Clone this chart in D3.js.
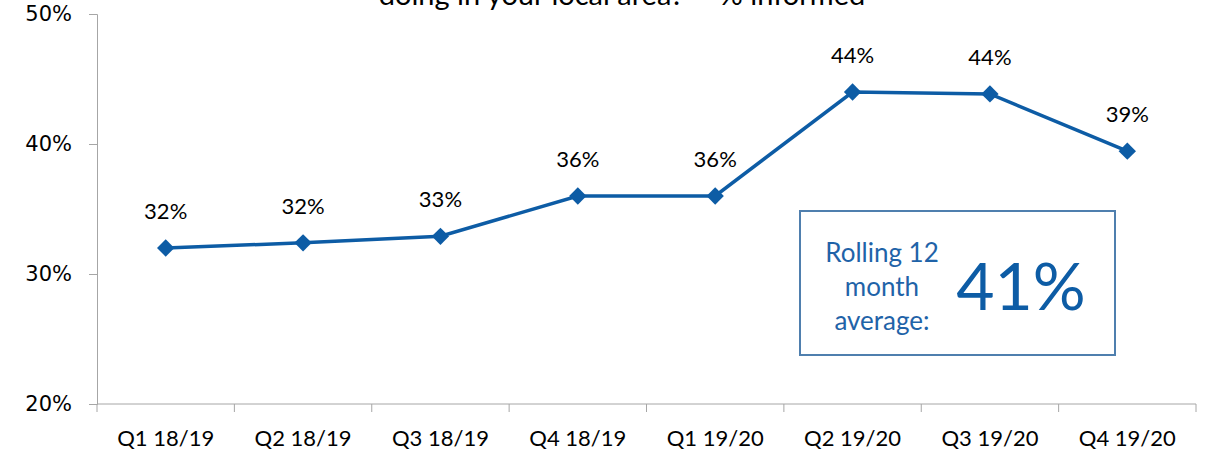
<!DOCTYPE html>
<html>
<head>
<meta charset="utf-8">
<script src="https://cdn.jsdelivr.net/npm/d3@7"></script>
<style>
  html, body { margin: 0; padding: 0; background: #fff; }
  svg { display: block; }
</style>
</head>
<body>
<svg id="chart" width="1206" height="452"></svg>
<script>
// Quarterly share of residents who feel informed
const quarters = ["Q1 18/19", "Q2 18/19", "Q3 18/19", "Q4 18/19", "Q1 19/20", "Q2 19/20", "Q3 19/20", "Q4 19/20"];
const informed = [32.0, 32.4, 32.9, 36.0, 36.0, 44.0, 43.85, 39.45];
const yTicks = [20, 30, 40, 50];
const rollingAverage = 41;
const titleText = "doing in your local area?\u201d - % informed";
const boxLines = ["Rolling 12", "month", "average:"];

const svg = d3.select("#chart");
const lineColor = "#0d5ca5";
const axisColor = "#a6a6a6";

const margin = { left: 97, right: 10, top: 14, bottom: 48 };
const W = 1206, H = 452;

const x = d3.scaleBand().domain(quarters).range([margin.left, W - margin.right]);
const y = d3.scaleLinear().domain([20, 50]).range([H - margin.bottom, margin.top]);

// title (its first line runs above the top edge)
svg.append("text")
  .attr("x", 622).attr("y", 5)
  .attr("text-anchor", "middle")
  .attr("font-family", "Lato, sans-serif")
  .attr("font-size", 29)
  .attr("fill", "#000")
  .text(titleText);

// y axis
const yAxis = svg.append("g")
  .attr("transform", `translate(${margin.left},0)`)
  .call(d3.axisLeft(y).tickValues(yTicks).tickFormat(d => d + "%").tickSize(8).tickPadding(17));
yAxis.selectAll("path, line").attr("stroke", axisColor);
yAxis.selectAll("text")
  .attr("font-family", "'DejaVu Sans', sans-serif")
  .attr("font-size", 21)
  .attr("fill", "#000");

// x axis with ticks between categories
const xAxisG = svg.append("g").attr("transform", `translate(0,${y(20)})`);
xAxisG.append("line")
  .attr("x1", margin.left).attr("x2", W - margin.right)
  .attr("stroke", axisColor);
const boundaries = quarters.map(q => x(q)).concat([x(quarters[quarters.length - 1]) + x.bandwidth()]);
xAxisG.selectAll("line.tick")
  .data(boundaries)
  .join("line")
  .attr("class", "tick")
  .attr("x1", d => d).attr("x2", d => d)
  .attr("y1", 0).attr("y2", 8)
  .attr("stroke", axisColor);
xAxisG.selectAll("text")
  .data(quarters)
  .join("text")
  .attr("x", d => x(d) + x.bandwidth() / 2)
  .attr("y", 42)
  .attr("text-anchor", "middle")
  .attr("font-family", "Lato, sans-serif")
  .attr("font-size", 22)
  .attr("fill", "#000")
  .text(d => d);

const cx = (d, i) => x(quarters[i]) + x.bandwidth() / 2;

// series line
svg.append("path")
  .datum(informed)
  .attr("fill", "none")
  .attr("stroke", lineColor)
  .attr("stroke-width", 3.5)
  .attr("d", d3.line().x(cx).y(d => y(d)));

// diamond markers
svg.selectAll("path.marker")
  .data(informed)
  .join("path")
  .attr("class", "marker")
  .attr("d", d3.symbol(d3.symbolSquare, 150))
  .attr("transform", (d, i) => `translate(${cx(d, i)},${y(d)}) rotate(45)`)
  .attr("fill", lineColor);

// value labels
svg.selectAll("text.value")
  .data(informed)
  .join("text")
  .attr("class", "value")
  .attr("x", cx)
  .attr("y", d => y(d) - 29)
  .attr("text-anchor", "middle")
  .attr("font-family", "Lato, sans-serif")
  .attr("font-size", 22)
  .attr("fill", "#000")
  .text(d => Math.round(d) + "%");

// rolling average callout
const box = svg.append("g");
box.append("rect")
  .attr("x", 800).attr("y", 211)
  .attr("width", 315).attr("height", 144)
  .attr("fill", "#fff")
  .attr("stroke", "#4f7fae")
  .attr("stroke-width", 2);
box.selectAll("text.caption")
  .data(boxLines)
  .join("text")
  .attr("class", "caption")
  .attr("x", 882)
  .attr("y", (d, i) => 262 + i * 34)
  .attr("text-anchor", "middle")
  .attr("font-family", "Lato, sans-serif")
  .attr("font-size", 26)
  .attr("fill", "#1f63a8")
  .text(d => d);
box.append("text")
  .attr("x", 1021).attr("y", 310)
  .attr("text-anchor", "middle")
  .attr("font-family", "Lato, sans-serif")
  .attr("font-size", 66)
  .attr("fill", "#0d5ca5")
  .text(rollingAverage + "%");
</script>
</body>
</html>
